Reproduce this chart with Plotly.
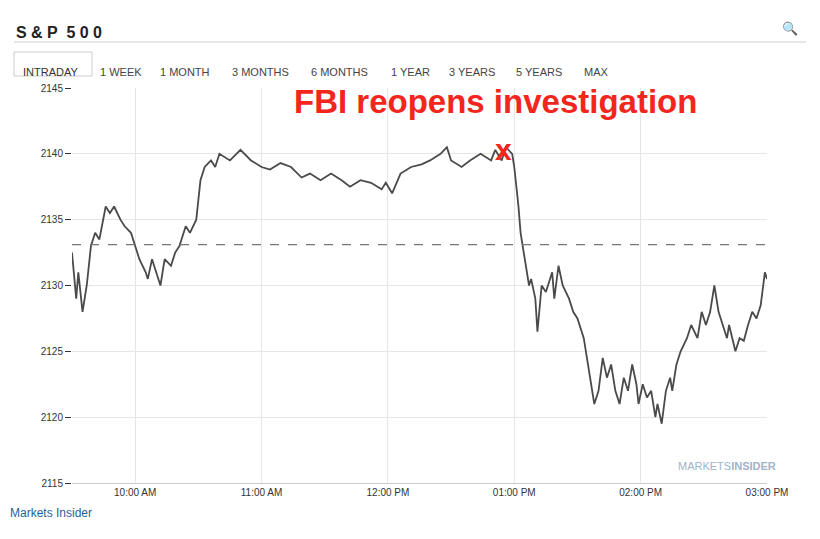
import plotly.graph_objects as go

day = "2016-10-28 "
times = ["09:30", "09:32", "09:33", "09:35", "09:37", "09:39", "09:41", "09:43", "09:46", "09:48",
         "09:50", "09:53", "09:55", "09:58", "10:00", "10:02", "10:05", "10:06", "10:08", "10:10",
         "10:12", "10:14", "10:17", "10:19", "10:21", "10:24", "10:26", "10:29", "10:31", "10:33",
         "10:36", "10:38", "10:40", "10:45", "10:50", "10:55", "11:00", "11:04", "11:09", "11:14",
         "11:19", "11:23", "11:28", "11:33", "11:38", "11:42", "11:47", "11:52", "11:57", "11:59",
         "12:02", "12:06", "12:11", "12:16", "12:20", "12:25", "12:28", "12:30", "12:35", "12:39",
         "12:44", "12:49", "12:51", "12:54", "12:56", "12:59", "13:00", "13:02", "13:03", "13:05",
         "13:07", "13:08", "13:10", "13:11", "13:13", "13:15", "13:18", "13:19", "13:21", "13:23",
         "13:26", "13:28", "13:30", "13:33", "13:35", "13:37", "13:38", "13:40", "13:42", "13:44",
         "13:46", "13:48", "13:50", "13:52", "13:54", "13:56", "13:58", "13:59", "14:01", "14:03",
         "14:05", "14:07", "14:08", "14:10", "14:12", "14:14", "14:15", "14:17", "14:19", "14:22",
         "14:24", "14:27", "14:29", "14:31", "14:33", "14:35", "14:37", "14:39", "14:41", "14:42",
         "14:45", "14:47", "14:49", "14:51", "14:53", "14:55", "14:57", "14:59", "15:00"]
prices = [2132.5, 2129, 2131, 2128, 2130, 2133, 2134, 2133.5, 2136, 2135.5,
          2136, 2135, 2134.5, 2134, 2133, 2132, 2131, 2130.5, 2132, 2131,
          2130, 2132, 2131.5, 2132.5, 2133, 2134.5, 2134, 2135, 2138, 2139,
          2139.5, 2139, 2140, 2139.5, 2140.3, 2139.5, 2139, 2138.8, 2139.3, 2139,
          2138.2, 2138.5, 2138, 2138.5, 2138, 2137.5, 2138, 2137.8, 2137.3, 2137.8,
          2137, 2138.5, 2139, 2139.2, 2139.5, 2140, 2140.5, 2139.5, 2139, 2139.5,
          2140, 2139.5, 2140.3, 2139.5, 2140.5, 2140, 2139, 2136, 2134, 2132,
          2130, 2130.5, 2129, 2126.5, 2130, 2129.5, 2131, 2129, 2131.5, 2130,
          2129, 2128, 2127.5, 2126, 2124, 2122, 2121, 2122, 2124.5, 2123,
          2124, 2122, 2121, 2123, 2122, 2124, 2122.5, 2121, 2122.5, 2121.5,
          2122, 2120, 2121, 2119.5, 2122, 2123, 2122, 2124, 2125, 2126,
          2127, 2126, 2128, 2127, 2128, 2130, 2128, 2127, 2126, 2127,
          2125, 2126, 2125.8, 2127, 2128, 2127.5, 2128.5, 2131, 2130.5]
prev_close = 2133.1
x_ticks = ["10:00", "11:00", "12:00", "13:00", "14:00", "15:00"]
x_tick_labels = ["10:00 AM", "11:00 AM", "12:00 PM", "01:00 PM", "02:00 PM", "03:00 PM"]
tabs = ["1 WEEK", "1 MONTH", "3 MONTHS", "6 MONTHS", "1 YEAR", "3 YEARS", "5 YEARS", "MAX"]
tab_x = [98, 158, 230, 309, 389, 447, 514, 582]

# page body has an 8px margin, so the figure is drawn 8px in from the window edge
OFF = 8
W, H = 820 - OFF, 539 - OFF
L, R, T, B = 72, 767, 88, 483


def px(x):
    return (x - L) / (R - L)


def py(y):
    return (B - y) / (B - T)


fig = go.Figure()
fig.add_trace(go.Scatter(x=[day + t for t in times], y=prices, mode="lines",
                         line=dict(color="#4a4a4a", width=1.8), hoverinfo="skip"))
fig.add_hline(y=prev_close, line=dict(color="#777", width=1.2, dash="dash"))

fig.add_annotation(x=day + "12:51", y=2144, text="<b>FBI reopens investigation</b>",
                   showarrow=False, yanchor="middle", font=dict(size=33, color="#f2261c"))
fig.add_annotation(x=day + "12:55", y=2140.3, text="<b>x</b>", showarrow=False,
                   font=dict(size=30, color="#f2261c"))
fig.add_annotation(x=day + "14:41", y=2115.7, text="MARKETS<b>INSIDER</b>", showarrow=False,
                   yanchor="bottom", font=dict(size=11, color="#9fb3c8"))

ann = [dict(xref="paper", yref="paper", x=px(14), y=py(22), text="<b>S &amp; P  5 0 0</b>",
            showarrow=False, xanchor="left", font=dict(size=16, color="#222")),
       dict(xref="paper", yref="paper", x=px(21), y=py(64), text="INTRADAY",
            showarrow=False, xanchor="left", font=dict(size=11, color="#333")),
       dict(xref="paper", yref="paper", x=px(8), y=py(522), text="Markets Insider",
            showarrow=False, xanchor="left", font=dict(size=12, color="#1f5f99")),
       dict(xref="paper", yref="paper", x=px(800), y=py(18), text="&#128269;",
            showarrow=False, font=dict(size=13, color="#3a7bbf"))]
for name, x in zip(tabs, tab_x):
    ann.append(dict(xref="paper", yref="paper", x=px(x), y=py(64), text=name,
                    showarrow=False, xanchor="left", font=dict(size=11, color="#444")))
for a in ann:
    fig.add_annotation(**a)

fig.add_shape(type="line", xref="paper", yref="paper", x0=px(14), x1=px(806),
              y0=py(42), y1=py(42), line=dict(color="#ccc", width=1))
fig.add_shape(type="rect", xref="paper", yref="paper", x0=px(14), x1=px(92),
              y0=py(76), y1=py(52), line=dict(color="#ccc", width=1))

fig.update_layout(
    width=W, height=H, margin=dict(l=L - OFF, r=820 - R, t=T - OFF, b=539 - B),
    paper_bgcolor="white", plot_bgcolor="white", showlegend=False,
    font=dict(family="Liberation Sans, Arial", size=10, color="#333"),
    xaxis=dict(range=[day + "09:30", day + "15:00"], tickvals=[day + t for t in x_ticks],
               ticktext=x_tick_labels, showgrid=True, gridcolor="#e6e6e6",
               showline=True, linecolor="#ccc", zeroline=False, ticks=""),
    yaxis=dict(range=[2115, 2145], dtick=5, showgrid=True, gridcolor="#e6e6e6",
               ticks="outside", ticklen=6, tickcolor="#333", zeroline=False, showline=False),
)
fig.write_html("out.html")
